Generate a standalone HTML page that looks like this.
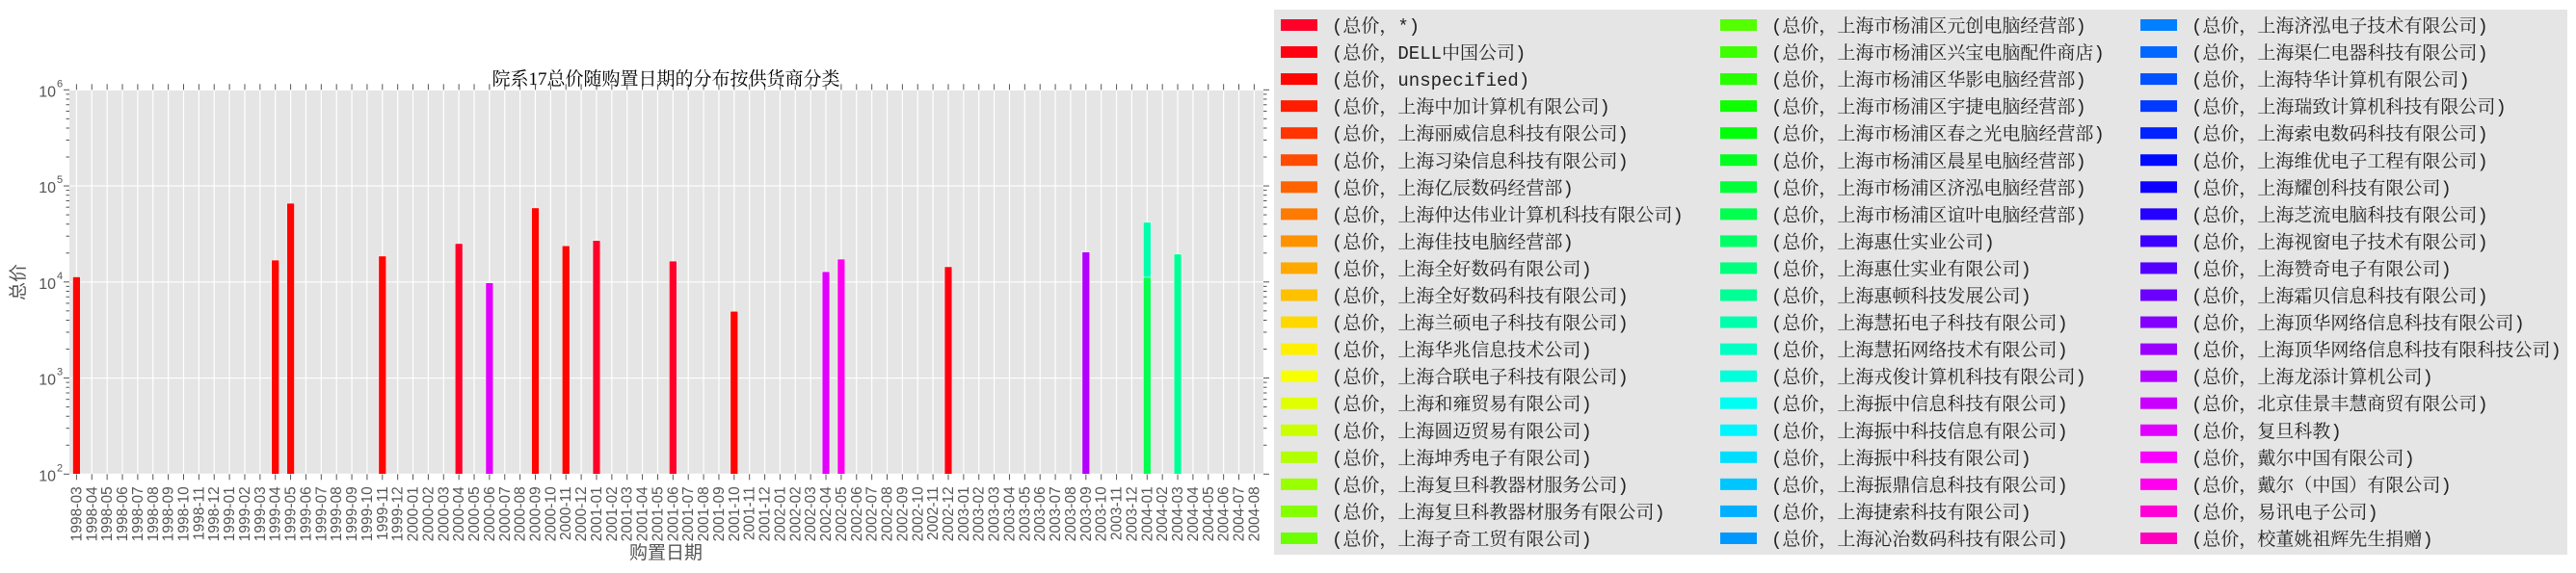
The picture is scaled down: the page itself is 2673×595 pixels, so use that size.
<!DOCTYPE html>
<html><head><meta charset="utf-8"><style>
html,body{margin:0;padding:0;background:#fff;}
svg{display:block;}
</style></head><body>
<svg id="chart" width="2673" height="595" xmlns="http://www.w3.org/2000/svg">
<rect x="0" y="0" width="2673" height="595" fill="#ffffff"/>
<g id="plot"></g>
<g id="legend"></g>
</svg>
<script>
const months = [];
(function(){let y=1998,m=3;for(let i=0;i<78;i++){months.push(y+'-'+(m<10?'0':'')+m);m++;if(m>12){m=1;y++;}}})();
const suppliers = ["*","DELL中国公司","unspecified","上海中加计算机有限公司","上海丽威信息科技有限公司","上海习染信息科技有限公司","上海亿辰数码经营部","上海仲达伟业计算机科技有限公司","上海佳技电脑经营部","上海全好数码有限公司","上海全好数码科技有限公司","上海兰硕电子科技有限公司","上海华兆信息技术公司","上海合联电子科技有限公司","上海和雍贸易有限公司","上海圆迈贸易有限公司","上海坤秀电子有限公司","上海复旦科教器材服务公司","上海复旦科教器材服务有限公司","上海子奇工贸有限公司",
"上海市杨浦区元创电脑经营部","上海市杨浦区兴宝电脑配件商店","上海市杨浦区华影电脑经营部","上海市杨浦区宇捷电脑经营部","上海市杨浦区春之光电脑经营部","上海市杨浦区晨星电脑经营部","上海市杨浦区济泓电脑经营部","上海市杨浦区谊叶电脑经营部","上海惠仕实业公司","上海惠仕实业有限公司","上海惠顿科技发展公司","上海慧拓电子科技有限公司","上海慧拓网络技术有限公司","上海戎俊计算机科技有限公司","上海振中信息科技有限公司","上海振中科技信息有限公司","上海振中科技有限公司","上海振鼎信息科技有限公司","上海捷索科技有限公司","上海沁治数码科技有限公司",
"上海济泓电子技术有限公司","上海渠仁电器科技有限公司","上海特华计算机有限公司","上海瑞致计算机科技有限公司","上海索电数码科技有限公司","上海维优电子工程有限公司","上海耀创科技有限公司","上海芝流电脑科技有限公司","上海视窗电子技术有限公司","上海赞奇电子有限公司","上海霜贝信息科技有限公司","上海顶华网络信息科技有限公司","上海顶华网络信息科技有限科技公司","上海龙添计算机公司","北京佳景丰慧商贸有限公司","复旦科教","戴尔中国有限公司","戴尔（中国）有限公司","易讯电子公司","校董姚祖辉先生捐赠"];
const barMonths = ["1998-03","1999-04","1999-05","1999-11","2000-04","2000-06","2000-09","2000-11","2001-01","2001-06","2001-10","2002-04","2002-05","2002-12","2003-09","2004-01","2004-01","2004-03"];
const barSupplier = [2,2,2,2,0,55,2,2,0,0,2,55,57,1,53,27,31,30];
const barValues = [11300,16900,66000,18600,25100,9800,59000,23800,27000,16500,4950,12800,17300,14400,20500,11200,30600,19500];
const yTicks = [2,3,4,5,6];

const NS="http://www.w3.org/2000/svg";
function mk(tag,attrs,parent,text){const e=document.createElementNS(NS,tag);for(const k in attrs)e.setAttribute(k,attrs[k]);if(text!==undefined)e.textContent=text;parent.appendChild(e);return e;}
// gist_rainbow
const seg={r:[[0,1],[0.03,1],[0.215,1],[0.4,0],[0.586,0],[0.77,0],[0.954,1],[1,1]],
g:[[0,0],[0.03,0],[0.215,1],[0.4,1],[0.586,1],[0.77,0],[0.954,0],[1,0]],
b:[[0,0.16],[0.03,0],[0.215,0],[0.4,0],[0.586,1],[0.77,1],[0.954,1],[1,0.75]]};
function ch(s,t){for(let i=1;i<s.length;i++){if(t<=s[i][0]){const a=s[i-1],b=s[i];return a[1]+(b[1]-a[1])*(t-a[0])/(b[0]-a[0]);}}return s[s.length-1][1];}
function cmap(i){const t=i/(suppliers.length-1);const f=v=>Math.round(v*255);return `rgb(${f(ch(seg.r,t))},${f(ch(seg.g,t))},${f(ch(seg.b,t))})`;}

const L=72,R=1311,T=93.3,B=492.3,x0=79.4,pitch=15.87,bw=7.8;
const xs=m=>x0+months.indexOf(m)*pitch;
const ys=v=>B-(Math.log10(v)-2)*(B-T)/4;
const plot=document.getElementById('plot');
const area=mk('rect',{x:L,y:T,width:R-L,height:B-T,fill:'#e5e5e5'},plot);


const grid=mk('g',{},plot);


months.forEach((m,i)=>{const x=xs(m);
 mk('line',{x1:x,x2:x,y1:T,y2:B,stroke:'#fff','stroke-width':1.2},grid);
 mk('line',{x1:x,x2:x,y1:T-6,y2:T,stroke:'#555','stroke-width':1},plot);
 mk('line',{x1:x,x2:x,y1:B,y2:B+6,stroke:'#555','stroke-width':1},plot);
 const t=mk('text',{x:0,y:0,transform:`translate(${x+5},${B+13}) rotate(-90)`,'text-anchor':'end','font-family':'Liberation Sans, sans-serif','font-size':15.5,fill:'#555'},plot,m);
 
 
});
yTicks.forEach(d=>{const y=B-(d-2)*(B-T)/4;
 mk('line',{x1:L,x2:R,y1:y,y2:y,stroke:'#fff','stroke-width':1.2},grid);
 mk('line',{x1:L-6,x2:L,y1:y,y2:y,stroke:'#555'},plot);
 mk('line',{x1:R,x2:R+6,y1:y,y2:y,stroke:'#555'},plot);
 if(d<6){for(let k=2;k<10;k++){const yy=B-(d-2+Math.log10(k))*(B-T)/4;
  mk('line',{x1:L-3.5,x2:L,y1:yy,y2:yy,stroke:'#555'},plot);
  mk('line',{x1:R,x2:R+3.5,y1:yy,y2:yy,stroke:'#555'},plot);}}
 const t=mk('text',{x:L-14,y:y+7,'text-anchor':'end','font-family':'Liberation Sans, sans-serif','font-size':16,fill:'#555'},plot,'10');
 
 
 mk('text',{x:L-13,y:y-3,'font-family':'Liberation Sans, sans-serif','font-size':11,fill:'#555'},plot,String(d));
});
const base={};
barMonths.forEach((m,i)=>{const b0=base[m]||0;const top=b0+barValues[i];
 const y1=ys(top),y0=b0?ys(b0):B;
 const r=mk('rect',{x:xs(m)-bw/2,y:y1,width:bw,height:y0-y1,fill:cmap(barSupplier[i]),stroke:'#fff','stroke-width':0.5},plot);
 
 
 base[m]=top;});
const ti=mk('text',{x:691,y:88,'text-anchor':'middle','font-family':'Liberation Serif, Noto Serif CJK SC, serif','font-size':19,fill:'#000'},plot,'院系17总价随购置日期的分布按供货商分类');


const xl=mk('text',{x:691,y:580,'text-anchor':'middle','font-family':'Liberation Sans, Noto Sans CJK SC, sans-serif','font-size':19,fill:'#555'},plot,'购置日期');


const yl=mk('text',{x:0,y:0,transform:'translate(25,293) rotate(-90)','text-anchor':'middle','font-family':'Liberation Sans, Noto Sans CJK SC, sans-serif','font-size':19,fill:'#555'},plot,'总价');



const lg=document.getElementById('legend');


mk('rect',{x:1322,y:10,width:1342,height:566,fill:'#e5e5e5'},lg);
const colX=[1329,1785,2221];
suppliers.forEach((s,i)=>{const c=Math.floor(i/20),r=i%20;const y=26+r*28.05;
 const g=mk('g',{},lg);
 
 
 mk('rect',{x:colX[c],y:y-6,width:38,height:12,fill:cmap(i)},g);
 mk('text',{x:colX[c]+53,y:y+7,'font-family':'Liberation Mono, Noto Serif CJK SC, serif','font-size':19,fill:'#222'},g,'(总价，'+s+')');
});
</script>
</body></html>
